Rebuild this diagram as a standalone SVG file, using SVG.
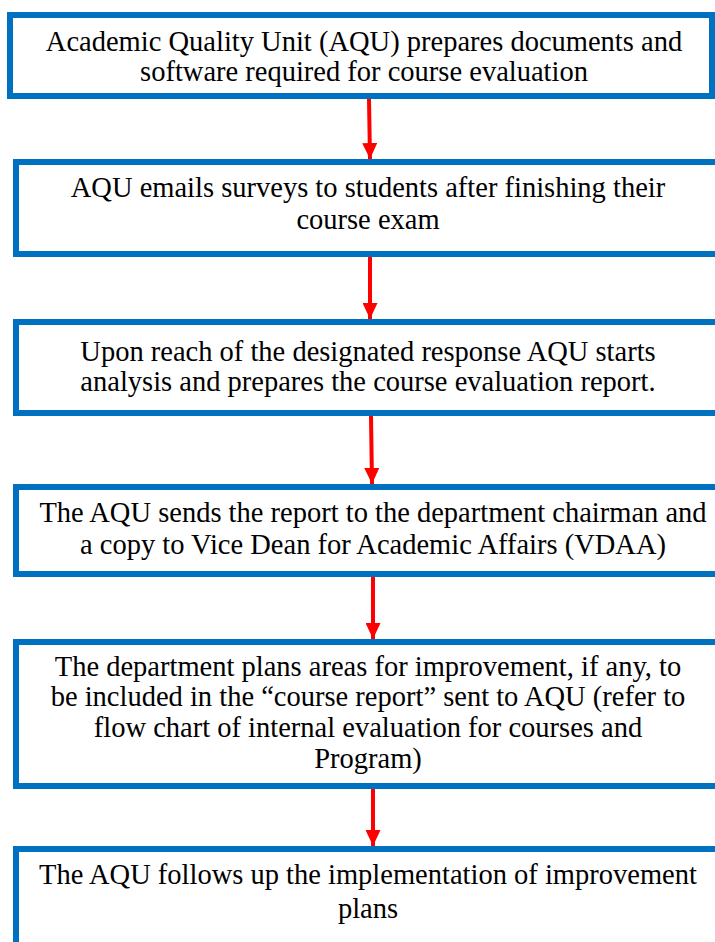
<svg xmlns="http://www.w3.org/2000/svg" width="715" height="942" viewBox="0 0 715 942">
<defs>
<style>
.box{fill:#ffffff;stroke:#0070c0;stroke-width:6}
.t{font-size:28.5px;fill:#000000;text-anchor:middle}
.c{stroke:#ff0000;stroke-width:4;fill:none}
</style>
<marker id="ah" markerUnits="userSpaceOnUse" markerWidth="16" markerHeight="15" refX="16" refY="7.5" orient="auto" viewBox="0 0 16 15">
<path d="M0,0 L16,7.5 L0,15 Z" fill="#ff0000"/>
</marker>
</defs>
<rect width="715" height="942" fill="#ffffff"/>
<g font-family="Liberation Serif, Times New Roman, Times, serif">
<g id="n1"><rect class="box" x="10" y="15" width="702" height="81"/>
<text class="t" x="364" y="51">Academic Quality Unit (AQU) prepares documents and</text>
<text class="t" x="364" y="81">software required for course evaluation</text></g>
<g id="n2"><rect class="box" x="16" y="162" width="710" height="92"/>
<text class="t" x="368" y="197">AQU emails surveys to students after finishing their</text>
<text class="t" x="368" y="229">course exam</text></g>
<g id="n3"><rect class="box" x="16" y="322" width="710" height="91"/>
<text class="t" x="368" y="361">Upon reach of the designated response AQU starts</text>
<text class="t" x="368" y="391">analysis and prepares the course evaluation report.</text></g>
<g id="n4"><rect class="box" x="16" y="487" width="710" height="87"/>
<text class="t" x="373" y="522">The AQU sends the report to the department chairman and</text>
<text class="t" x="373" y="554">a copy to Vice Dean for Academic Affairs (VDAA)</text></g>
<g id="n5"><rect class="box" x="16" y="642" width="710" height="144"/>
<text class="t" x="368" y="676">The department plans areas for improvement, if any, to</text>
<text class="t" x="368" y="706">be included in the “course report” sent to AQU (refer to</text>
<text class="t" x="368" y="737">flow chart of internal evaluation for courses and</text>
<text class="t" x="368" y="768">Program)</text></g>
<g id="n6"><rect class="box" x="16" y="849" width="710" height="120"/>
<text class="t" x="368" y="884">The AQU follows up the implementation of improvement</text>
<text class="t" x="368" y="918">plans</text></g>
</g>
<g id="connectors">
<line class="c" x1="369" y1="99" x2="370" y2="159" marker-end="url(#ah)"/>
<line class="c" x1="370" y1="257" x2="370" y2="319" marker-end="url(#ah)"/>
<line class="c" x1="371" y1="416" x2="372" y2="484" marker-end="url(#ah)"/>
<line class="c" x1="373" y1="577" x2="373" y2="639" marker-end="url(#ah)"/>
<line class="c" x1="373" y1="789" x2="373" y2="846" marker-end="url(#ah)"/>
</g>
</svg>
